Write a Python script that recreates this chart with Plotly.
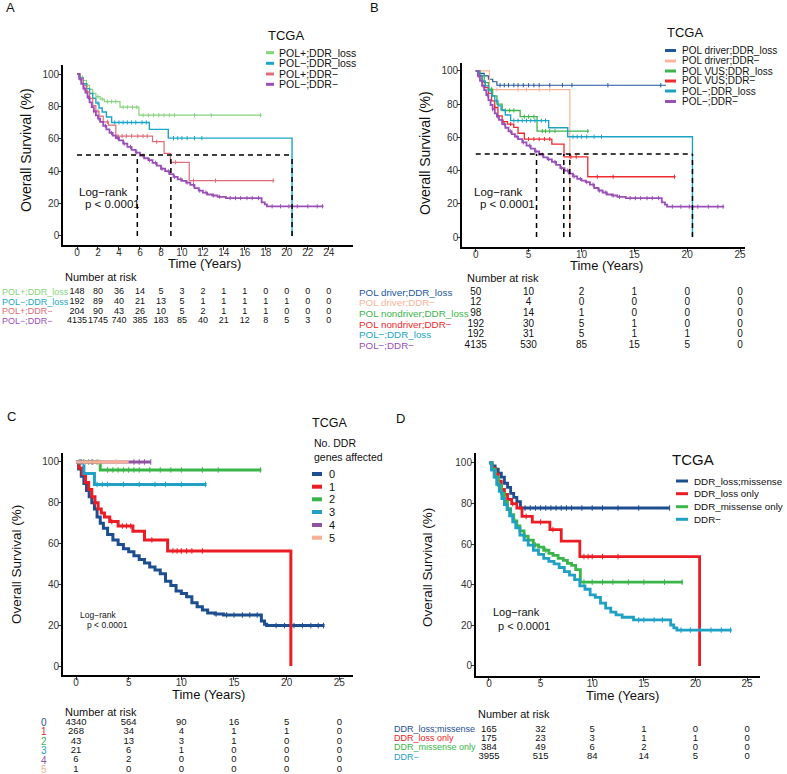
import plotly.graph_objects as go

W, H = 787, 774
FONT = "Liberation Sans, Arial, Helvetica, sans-serif"

# ======================= DATA =======================
# ---- groups shared by panels A and B ----
polneg_loss_t = [0, 0.3, 0.6, 0.9, 1.2, 1.5, 1.8, 2.1, 2.4, 2.8, 3.3, 6.9, 8.7, 20.5]
polneg_loss_s = [100, 97.5, 94, 91, 88, 85, 82, 79, 76.5, 73.5, 70.1, 65.8, 60.4, 0]
polneg_loss_cens = [2.0, 3.6, 4.0, 4.4, 4.8, 5.2, 5.6, 6.2, 6.6, 9.2, 9.6, 10.0, 10.5, 11.2, 11.9]

polneg_neg_t = [0, 0.2, 0.4, 0.6, 0.8, 1.0, 1.2, 1.4, 1.6, 1.8, 2.0, 2.2, 2.5, 2.8, 3.1, 3.4,
                3.7, 4.0, 4.4, 4.8, 5.2, 5.6, 6.0, 6.4, 6.8, 7.2, 7.6, 8.0, 8.4, 8.8, 9.2, 9.6,
                10.0, 10.4, 10.8, 11.2, 11.6, 12.0, 12.4, 12.9, 13.4, 14.2, 17.6, 17.9, 18.1, 23.5]
polneg_neg_s = [100, 97, 94, 91, 88.5, 85.5, 82.5, 79.5, 77, 74.5, 72.5, 70.5, 68, 65.8, 63.6, 62,
                60.5, 59, 57, 55, 53.2, 51.5, 49.6, 48, 46.8, 45.2, 43.5, 41.5, 40, 38.2, 36.5, 35,
                34, 33, 31.5, 29.5, 28, 26.8, 25.6, 25, 24.2, 23.4, 20.8, 19.5, 18.3, 18.3]
polneg_neg_cens = [0.3, 0.7, 1.1, 1.6, 2.1, 2.7, 3.3, 3.9, 4.5, 5.1, 5.7, 6.3, 6.9, 7.5, 8.1, 8.7,
                   9.3, 9.9, 10.5, 11.1, 11.7, 12.3, 13.0, 13.6, 14.6, 15.1, 15.6, 16.2, 16.7, 17.3,
                   18.6, 19.4, 20.2, 21.0, 22.0, 22.9, 23.4]

# ---- panel A only ----
polpos_loss_t = [0, 0.3, 0.6, 0.9, 1.2, 1.5, 1.8, 2.2, 2.6, 4.1, 5.9, 17.6]
polpos_loss_s = [100, 98, 96, 93, 90.5, 88, 86, 84.5, 83, 79.5, 74.6, 74.6]
polpos_loss_cens = [0.5, 1.0, 1.5, 2.0, 2.4, 2.9, 3.3, 3.7, 4.4, 4.8, 5.3, 5.7, 6.3, 6.8, 7.3,
                    7.8, 8.3, 8.8, 9.3, 11.2, 12.8, 17.5]

polpos_neg_t = [0, 0.3, 0.6, 0.9, 1.2, 1.5, 1.8, 2.1, 2.5, 3.0, 3.7, 7.2, 8.3, 8.9, 10.7, 18.8]
polpos_neg_s = [100, 97, 93, 89, 85, 80.5, 77, 74, 70.5, 68.5, 61.7, 58.2, 51, 45.5, 34.2, 34.2]
polpos_neg_cens = [1.0, 2.0, 2.9, 3.9, 4.3, 4.7, 5.2, 5.8, 6.3, 6.7, 7.6, 9.4, 11.1, 13.2, 18.7]

# ---- panel B only ----
drv_loss_t = [0, 0.4, 0.8, 1.2, 1.6, 2.0, 18.0]
drv_loss_s = [100, 98.5, 97, 95, 93.5, 91.4, 91.4]
drv_loss_cens = [2.3, 2.7, 3.1, 3.6, 4.0, 4.5, 5.0, 5.5, 6.0, 7.0, 8.2, 9.1, 12.5, 17.5]

drv_neg_t = [0, 1.3, 8.9]
drv_neg_s = [100, 88.8, 0]
drv_neg_cens = [2.0, 4.0, 4.8, 6.0, 7.0]

vus_loss_t = [0, 0.4, 0.8, 1.2, 1.6, 2.0, 2.5, 4.2, 5.8, 10.7]
vus_loss_s = [100, 97, 93, 89, 85, 80, 76.2, 72.5, 63.8, 63.8]
vus_loss_cens = [1.5, 2.8, 3.2, 3.6, 4.6, 5.0, 5.5, 6.3, 6.6, 7.0, 7.5, 10.6]

vus_neg_t = [0, 0.3, 0.6, 0.9, 1.2, 1.5, 1.8, 2.1, 2.5, 3.0, 3.6, 4.0, 4.6, 7.2, 8.35, 10.6, 18.9]
vus_neg_s = [100, 97, 93.5, 90, 86.5, 82, 78, 73, 69.5, 68, 66, 62.5, 59, 56, 48.3, 36.3, 36.3]
vus_neg_cens = [1.8, 2.6, 3.3, 5.0, 5.5, 6.0, 6.5, 7.0, 9.0, 9.5, 11.5, 13.0, 18.8]

# ---- panel C (No. DDR genes affected) ----
c0_t = [0, 0.25, 0.5, 0.75, 1.0, 1.25, 1.5, 1.75, 2.0, 2.3, 2.6, 3.0, 3.5, 4.0, 4.5, 5.0, 5.5,
        6.0, 6.5, 7.0, 7.5, 8.0, 8.5, 9.0, 9.5, 10.0, 10.5, 11.0, 11.5, 12.0, 12.5, 13.2, 14.0,
        17.6, 17.9, 18.1, 23.6]
c0_s = [100, 96.5, 93, 89.5, 86, 83, 80, 77, 73, 70, 67.5, 64.5, 61.8, 59.5, 57.5, 56, 54,
        52.2, 50.5, 48.5, 47, 45.2, 41.5, 39.5, 36.8, 35.5, 34, 31, 29, 27.5, 26, 25.5, 25,
        22, 20.5, 19.8, 19.8]
c0_cens = [13.3, 14.3, 15.0, 15.8, 16.5, 17.2, 19.0, 19.8, 20.7, 21.5, 22.3, 23.0, 23.5]

c1_t = [0, 0.3, 0.6, 0.9, 1.2, 1.5, 1.8, 2.1, 2.4, 2.7, 3.2, 4.0, 5.4, 6.5, 8.7, 20.4]
c1_s = [100, 97, 94, 90, 86.5, 83, 80, 77, 75, 73, 70.8, 68.6, 66, 61.8, 56.4, 0]
c1_cens = [1.8, 3.4, 4.4, 4.8, 5.2, 7.2, 9.2, 9.6, 10.0, 10.5, 11.0, 12.0]

c2_t = [0, 2.3, 17.6]
c2_s = [100, 96.1, 96.1]
c2_cens = [0.3, 0.7, 1.2, 1.6, 2.0, 3.0, 3.5, 4.0, 4.5, 5.0, 5.5, 6.0, 7.0, 8.0, 9.0, 10.0, 12.0, 13.5, 17.5]

c3_t = [0, 0.75, 1.75, 12.4]
c3_s = [100, 94.4, 89, 89]
c3_cens = [0.4, 2.0, 2.5, 3.0, 4.5, 6.0, 7.5, 8.5, 10.0, 12.3]

c4_t = [0, 7.1]
c4_s = [100, 100]
c4_cens = [0.5, 1.5, 5.5, 6.0, 6.5, 7.1]

c5_t = [0, 5.0]
c5_s = [100, 100]
c5_cens = [0.8, 2.2, 3.8]

# ---- panel D ----
d_lm_t = [0, 0.3, 0.6, 0.9, 1.2, 1.5, 1.8, 2.1, 2.4, 2.7, 3.05, 17.5]
d_lm_s = [100, 98.5, 97, 95, 93, 90, 88, 85, 83, 81, 77.8, 77.8]
d_lm_cens = [3.5, 4.0, 4.5, 5.0, 5.5, 6.0, 6.5, 7.0, 7.5, 8.0, 9.0, 10.0, 11.0, 12.5, 14.5, 17.5]

d_lo_t = [0, 0.3, 0.6, 0.9, 1.2, 1.5, 1.8, 2.2, 2.7, 3.2, 4.2, 5.9, 7.0, 8.8, 20.4]
d_lo_s = [100, 97.5, 94.5, 91, 87, 84.5, 82, 80, 77.8, 73.7, 70.9, 67.2, 61.5, 53.9, 0]
d_lo_cens = [2.3, 3.6, 5.0, 6.2, 9.2, 9.6, 10.0, 11.0, 12.5]

d_mo_t = [0, 0.3, 0.6, 0.9, 1.2, 1.5, 1.8, 2.1, 2.4, 2.7, 3.0, 3.4, 3.8, 4.3, 4.8, 5.3, 5.8,
          6.2, 6.7, 7.2, 7.6, 8.0, 8.4, 8.85, 18.8]
d_mo_s = [100, 97, 93, 89, 85, 81, 77.5, 74.5, 71.5, 69, 66.5, 64, 62, 59.6, 58.5, 57, 55.5,
          54.5, 53, 52, 50.5, 49.6, 47.5, 41.3, 41.3]
d_mo_cens = [2.5, 3.5, 4.5, 5.5, 9.2, 10.0, 11.0, 12.0, 13.5, 15.0, 17.0, 18.7]

d_neg_t = [0, 0.25, 0.5, 0.75, 1.0, 1.25, 1.5, 1.75, 2.0, 2.3, 2.6, 3.0, 3.4, 3.8, 4.3, 4.8,
           5.3, 5.8, 6.3, 6.8, 7.3, 7.8, 8.3, 8.8, 9.3, 9.8, 10.3, 10.8, 11.3, 11.8, 12.3, 12.9,
           14.0, 17.6, 17.9, 18.2, 23.5]
d_neg_s = [100, 96.5, 93, 89.5, 86, 82.5, 79.5, 77, 74, 71, 68, 64.5, 62, 59.5, 57, 55,
           53, 51.5, 50.3, 48.5, 46.5, 44.8, 42.5, 39.5, 37.8, 35, 33.8, 31, 28.5, 26.5, 25.2, 24,
           22.7, 20.2, 18.8, 17.7, 17.7]
d_neg_cens = [14.5, 15.0, 16.0, 16.8, 18.6, 19.5, 20.5, 21.5, 22.5, 23.4]

# ---- median survival reference lines ----
median_level = 50
median_times_a = [5.75, 8.95, 20.5]
median_times_b = [5.75, 8.33, 8.9, 20.5]

# ---- tick values ----
ticks_x_a = list(range(0, 25, 2))
ticks_x_bcd = [0, 5, 10, 15, 20, 25]
ticks_y = [0, 20, 40, 60, 80, 100]

# ---- number at risk tables ----
risk_times_a = [0, 2, 4, 6, 8, 10, 12, 14, 16, 18, 20, 22, 24]
risk_a_labels = ["POL+;DDR_loss", "POL−;DDR_loss", "POL+;DDR−", "POL−;DDR−"]
risk_a_polpos_loss = [148, 80, 36, 14, 5, 3, 2, 1, 1, 0, 0, 0, 0]
risk_a_polneg_loss = [192, 89, 40, 21, 13, 5, 1, 1, 1, 1, 1, 0, 0]
risk_a_polpos_neg = [204, 90, 43, 26, 10, 5, 2, 1, 1, 1, 0, 0, 0]
risk_a_polneg_neg = [4135, 1745, 740, 385, 183, 85, 40, 21, 12, 8, 5, 3, 0]

risk_times_b = [0, 5, 10, 15, 20, 25]
risk_b_labels = ["POL driver;DDR_loss", "POL driver;DDR−", "POL nondriver;DDR_loss",
                 "POL nondriver;DDR−", "POL−;DDR_loss", "POL−;DDR−"]
risk_b_drv_loss = [50, 10, 2, 1, 0, 0]
risk_b_drv_neg = [12, 4, 0, 0, 0, 0]
risk_b_nondrv_loss = [98, 14, 1, 0, 0, 0]
risk_b_nondrv_neg = [192, 30, 5, 1, 0, 0]
risk_b_polneg_loss = [192, 31, 5, 1, 1, 0]
risk_b_polneg_neg = [4135, 530, 85, 15, 5, 0]

risk_times_c = [0, 5, 10, 15, 20, 25]
risk_c_labels = ["0", "1", "2", "3", "4", "5"]
risk_c_0 = [4340, 564, 90, 16, 5, 0]
risk_c_1 = [268, 34, 4, 1, 1, 0]
risk_c_2 = [43, 13, 3, 1, 0, 0]
risk_c_3 = [21, 6, 1, 0, 0, 0]
risk_c_4 = [6, 2, 0, 0, 0, 0]
risk_c_5 = [1, 0, 0, 0, 0, 0]

risk_times_d = [0, 5, 10, 15, 20, 25]
risk_d_labels = ["DDR_loss;missense", "DDR_loss only", "DDR_missense only", "DDR−"]
risk_d_lm = [165, 32, 5, 1, 0, 0]
risk_d_lo = [175, 23, 3, 1, 1, 0]
risk_d_mo = [384, 49, 6, 2, 0, 0]
risk_d_neg = [3955, 515, 84, 14, 5, 0]

# ---- legend labels / colours ----
leg_a = ["POL+;DDR_loss", "POL−;DDR_loss", "POL+;DDR−", "POL−;DDR−"]
col_a = ["#86d47c", "#1aa6c9", "#e06c78", "#9a4fb8"]
leg_b = ["POL driver;DDR_loss", "POL driver;DDR−", "POL VUS;DDR_loss", "POL VUS;DDR−",
         "POL−;DDR_loss", "POL−;DDR−"]
col_b = ["#21579f", "#f9b59a", "#3db54a", "#ee2a2e", "#1ba3c6", "#9a4fb8"]
leg_c = ["0", "1", "2", "3", "4", "5"]
col_c = ["#1d4e8f", "#ec1c24", "#3ab54a", "#1fa0c4", "#8e54a2", "#f6b095"]
leg_d = ["DDR_loss;missense", "DDR_loss only", "DDR_missense only", "DDR−"]
col_d = ["#1d4e8f", "#ec1c24", "#3ab54a", "#1fa0c4"]


# ======================= HELPERS =======================
def px(x):
    return x / W


def py(y):
    return 1 - y / H


def step_at(ts, ss, t):
    val = ss[0]
    for ti, si in zip(ts, ss):
        if ti <= t:
            val = si
        else:
            break
    return val


fig = go.Figure()


def add_curve(ax, ts, ss, cens, color, width, tick_size):
    xa, ya = ("x", "y") if ax == 1 else (f"x{ax}", f"y{ax}")
    fig.add_trace(go.Scatter(x=ts, y=ss, mode="lines", xaxis=xa, yaxis=ya,
                             line=dict(shape="hv", color=color, width=width),
                             showlegend=False, hoverinfo="skip"))
    fig.add_trace(go.Scatter(x=cens, y=[step_at(ts, ss, c) for c in cens], mode="markers",
                             xaxis=xa, yaxis=ya, showlegend=False, hoverinfo="skip",
                             marker=dict(symbol="line-ns", size=tick_size,
                                         line=dict(width=1, color=color))))


def add_median(ax, times):
    xa, ya = ("x", "y") if ax == 1 else (f"x{ax}", f"y{ax}")
    xs = [0, max(times), None]
    ys = [median_level, median_level, None]
    for t in times:
        xs += [t, t, None]
        ys += [0, median_level, None]
    fig.add_trace(go.Scatter(x=xs, y=ys, mode="lines", xaxis=xa, yaxis=ya,
                             line=dict(color="black", width=1.5, dash="5px,4px"),
                             showlegend=False, hoverinfo="skip"))


# ======================= CURVES =======================
# Panel A
add_curve(1, polpos_loss_t, polpos_loss_s, polpos_loss_cens, col_a[0], 1.2, 3)
add_curve(1, polneg_loss_t, polneg_loss_s, polneg_loss_cens, col_a[1], 1.4, 3)
add_curve(1, polpos_neg_t, polpos_neg_s, polpos_neg_cens, col_a[2], 1.2, 3)
add_curve(1, polneg_neg_t, polneg_neg_s, polneg_neg_cens, col_a[3], 1.8, 3)
add_median(1, median_times_a)

# Panel B
add_curve(2, drv_loss_t, drv_loss_s, drv_loss_cens, col_b[0], 1.2, 3)
add_curve(2, drv_neg_t, drv_neg_s, drv_neg_cens, col_b[1], 1.2, 3)
add_curve(2, vus_loss_t, vus_loss_s, vus_loss_cens, col_b[2], 1.3, 3)
add_curve(2, vus_neg_t, vus_neg_s, vus_neg_cens, col_b[3], 1.3, 3)
add_curve(2, polneg_loss_t, polneg_loss_s, polneg_loss_cens, col_b[4], 1.4, 3)
add_curve(2, polneg_neg_t, polneg_neg_s, polneg_neg_cens, col_b[5], 1.8, 3)
add_median(2, median_times_b)

# Panel C
for ts, ss, cs, col in [(c0_t, c0_s, c0_cens, col_c[0]), (c1_t, c1_s, c1_cens, col_c[1]),
                        (c2_t, c2_s, c2_cens, col_c[2]), (c3_t, c3_s, c3_cens, col_c[3]),
                        (c4_t, c4_s, c4_cens, col_c[4]), (c5_t, c5_s, c5_cens, col_c[5])]:
    add_curve(3, ts, ss, cs, col, 3.0, 4)

# Panel D
for ts, ss, cs, col in [(d_lm_t, d_lm_s, d_lm_cens, col_d[0]), (d_lo_t, d_lo_s, d_lo_cens, col_d[1]),
                        (d_mo_t, d_mo_s, d_mo_cens, col_d[2]), (d_neg_t, d_neg_s, d_neg_cens, col_d[3])]:
    add_curve(4, ts, ss, cs, col, 2.8, 4)

# ======================= AXES =======================
panels = {
    # ax: (x0px, x1px, ytop_px, ybot_px, xrange, yrange, xticks)
    1: (63, 353, 65, 245, [-1.335, 26.31], [-5.56, 105.56], ticks_x_a),
    2: (462, 745, 63, 247, [-1.30, 25.47], [-6.02, 104.8], ticks_x_bcd),
    3: (63, 353, 453, 675, [-1.235, 26.3], [-4.41, 104.4], ticks_x_bcd),
    4: (476, 760, 453, 676, [-1.255, 26.25], [-4.93, 104.9], ticks_x_bcd),
}
layout_axes = {}
for ax, (x0, x1, yt, yb, xr, yr, xt) in panels.items():
    lw = 1.6 if ax in (1, 2) else 2.0
    xname = "xaxis" if ax == 1 else f"xaxis{ax}"
    yname = "yaxis" if ax == 1 else f"yaxis{ax}"
    layout_axes[xname] = dict(domain=[px(x0), px(x1)], range=xr, tickvals=xt,
                              anchor="y" if ax == 1 else f"y{ax}",
                              showline=True, linecolor="black", linewidth=lw, showgrid=False,
                              zeroline=False, ticks="outside", ticklen=3, tickwidth=1,
                              ticklabelstandoff=-6,
                              tickcolor="#333", tickfont=dict(size=10, color="#333", family=FONT))
    layout_axes[yname] = dict(domain=[py(yb), py(yt)], range=yr, tickvals=ticks_y,
                              anchor="x" if ax == 1 else f"x{ax}",
                              showline=True, linecolor="black", linewidth=lw, showgrid=False,
                              zeroline=False, ticks="outside", ticklen=3, tickwidth=1,
                              ticklabelstandoff=-3,
                              tickcolor="#333", tickfont=dict(size=10, color="#333", family=FONT))

# ======================= RISK TABLES =======================
risk_specs = [
    # (risk ax, main ax, times, rows, labels, colors, y0, spacing, num font, label x, label anchor, label font)
    (5, 1, risk_times_a, [risk_a_polpos_loss, risk_a_polneg_loss, risk_a_polpos_neg, risk_a_polneg_neg],
     risk_a_labels, col_a, 292.0, 9.7, 9, 0, "left", 9),
    (6, 2, risk_times_b, [risk_b_drv_loss, risk_b_drv_neg, risk_b_nondrv_loss, risk_b_nondrv_neg,
                          risk_b_polneg_loss, risk_b_polneg_neg],
     risk_b_labels, col_b, 292.3, 10.65, 10, 357, "left", 9.8),
    (7, 3, risk_times_c, [risk_c_0, risk_c_1, risk_c_2, risk_c_3, risk_c_4, risk_c_5],
     risk_c_labels, col_c, 722.5, 9.4, 9.5, 44, "center", 10),
    (8, 4, risk_times_d, [risk_d_lm, risk_d_lo, risk_d_mo, risk_d_neg],
     risk_d_labels, col_d, 729.3, 9.1, 9.5, 392, "left", 9),
]
annotations = []
for rax, max_, times, rows, labels, cols, y0, sp, nf, lx, lanchor, lf in risk_specs:
    x0, x1 = panels[max_][0], panels[max_][1]
    top = y0 - sp
    bot = min(H, y0 + len(rows) * sp)
    xs, ys, txt = [], [], []
    for i, row in enumerate(rows):
        for t, v in zip(times, row):
            xs.append(t)
            ys.append(i)
            txt.append(str(v))
    fig.add_trace(go.Scatter(x=xs, y=ys, text=txt, mode="text", xaxis=f"x{rax}", yaxis=f"y{rax}",
                             textfont=dict(size=nf, color="#111", family=FONT),
                             showlegend=False, hoverinfo="skip", cliponaxis=False))
    layout_axes[f"xaxis{rax}"] = dict(domain=[px(x0), px(x1)], matches="x" if max_ == 1 else f"x{max_}",
                                      anchor=f"y{rax}", visible=False)
    layout_axes[f"yaxis{rax}"] = dict(domain=[py(bot), py(top)],
                                      range=[(bot - y0) / sp, (top - y0) / sp],
                                      anchor=f"x{rax}", visible=False)
    for i, (lab, c) in enumerate(zip(labels, cols)):
        annotations.append(dict(x=px(lx), y=i, xref="paper", yref=f"y{rax}", text=lab,
                                xanchor=lanchor, yanchor="middle", showarrow=False,
                                font=dict(size=lf, color=c, family=FONT)))


# ======================= TEXT ANNOTATIONS =======================
def txt(x, y, s, size, anchor="left", color="#111", angle=0):
    annotations.append(dict(x=px(x), y=py(y), xref="paper", yref="paper", text=s,
                            xanchor=anchor, yanchor="middle", showarrow=False, textangle=angle,
                            font=dict(size=size, color=color, family=FONT)))


# panel letters
txt(10, 8, "A", 13, "center")
txt(374, 8, "B", 13, "center")
txt(11, 417, "C", 13, "center")
txt(401, 418, "D", 13, "center")

# axis titles
txt(26, 150, "Overall Survival (%)", 14, "center", angle=-90)
txt(425, 153, "Overall Survival (%)", 14, "center", angle=-90)
txt(16, 565, "Overall Survival (%)", 13.5, "center", angle=-90)
txt(427, 567, "Overall Survival (%)", 13.5, "center", angle=-90)
txt(204, 263, "Time (Years)", 13, "center")
txt(606, 265, "Time (Years)", 13, "center")
txt(209, 694, "Time (Years)", 13, "center")
txt(622, 695, "Time (Years)", 13, "center")

# log-rank
txt(77, 192, "Log−rank", 11.5)
txt(83, 204, "p < 0.0001", 11.5)
txt(472, 192, "Log−rank", 11.5)
txt(478, 204, "p < 0.0001", 11.5)
txt(78, 615, "Log−rank", 8.5)
txt(85, 625, "p < 0.0001", 8.5)
txt(491, 612, "Log−rank", 11)
txt(496, 626, "p < 0.0001", 11)

# number at risk headers
txt(63, 277, "Number at risk", 11)
txt(465, 278, "Number at risk", 11)
txt(63, 712, "Number at risk", 11)
txt(476, 714, "Number at risk", 11)

# ======================= LEGENDS (manual) =======================
shapes = []


def legend(title_x, title_y, title_size, items, colors, ys, sw0, sw1, tx, size, sw_w):
    txt(title_x, title_y, "TCGA", title_size)
    for lab, c, yy in zip(items, colors, ys):
        shapes.append(dict(type="line", xref="paper", yref="paper", x0=px(sw0), x1=px(sw1),
                           y0=py(yy), y1=py(yy), line=dict(color=c, width=sw_w)))
        txt(tx, yy, lab, size)


legend(266, 35, 13, leg_a, col_a, [52.7, 63.3, 74.0, 84.3], 266, 274, 277, 10.5, 3)
legend(665, 33, 13, leg_b, col_b, [50.5, 61, 71, 81, 91, 101.5], 665, 676, 680, 10, 3)
legend(310, 423, 12.5, leg_c, col_c, [474, 486.7, 499.3, 512, 525, 537.7], 312, 322, 327, 11, 4)
txt(312, 443, "No. DDR", 10.5)
txt(312, 457, "genes affected", 10.5)
legend(670, 459, 15, leg_d, col_d, [481, 493.7, 506.7, 519.3], 676, 688, 692, 9.8, 3)

fig.update_layout(
    width=W, height=H, margin=dict(l=0, r=0, t=0, b=0),
    paper_bgcolor="white", plot_bgcolor="white",
    font=dict(family=FONT, color="#111"),
    showlegend=False,
    annotations=annotations, shapes=shapes,
    **layout_axes,
)

fig.write_html("out.html", config={"displayModeBar": False},
               post_script="document.body.style.margin='0px';document.body.style.padding='0px';")
